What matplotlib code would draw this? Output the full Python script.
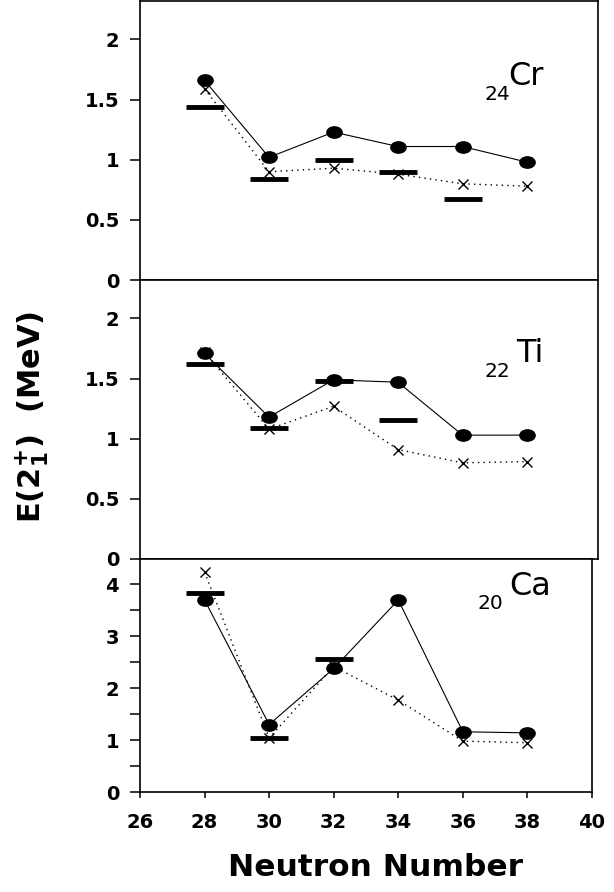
import matplotlib
matplotlib.use("Agg")
import matplotlib.pyplot as plt
from matplotlib.path import Path
from matplotlib.transforms import Affine2D

# E(2+1) systematics for Cr, Ti, Ca isotopes
neutrons = [28, 30, 32, 34, 36, 38]

cr_calc1 = [1.66, 1.02, 1.23, 1.11, 1.11, 0.98]   # filled circles, solid line
cr_calc2 = [1.59, 0.90, 0.93, 0.88, 0.80, 0.78]   # crosses, dotted line
cr_exp_n = [28, 30, 32, 34, 36]
cr_exp = [1.44, 0.84, 1.00, 0.90, 0.67]

ti_calc1 = [1.71, 1.18, 1.49, 1.47, 1.03, 1.03]
ti_calc2 = [1.72, 1.08, 1.27, 0.91, 0.80, 0.81]
ti_exp_n = [28, 30, 32, 34]
ti_exp = [1.62, 1.09, 1.48, 1.16]

ca_calc1 = [3.70, 1.30, 2.38, 3.70, 1.16, 1.14]
ca_calc2 = [4.24, 1.04, 2.42, 1.77, 0.98, 0.95]
ca_exp_n = [28, 30, 32]
ca_exp = [3.83, 1.04, 2.56]

small_ticks = [0, 0.5, 1, 1.5, 2]
small_labels = ["0", "0.5", "1", "1.5", "2"]
ca_ticks = [0, 1, 2, 3, 4]
ca_labels = ["0", "1", "2", "3", "4"]
ca_minor = [0.5, 1.5, 2.5, 3.5]
x_ticks = [26, 28, 30, 32, 34, 36, 38, 40]

W, H = 614, 892
fig = plt.figure(figsize=(W / 100, H / 100), dpi=100)

ax_cr = fig.add_axes([140 / W, 1 - 280 / H, 458 / W, 279 / H])
ax_ti = fig.add_axes([140 / W, 1 - 559 / H, 458 / W, 279 / H])
ax_ca = fig.add_axes([140 / W, 1 - 792 / H, 452 / W, 233 / H])

# slightly flattened dot, as in the original
ellipse = Path.unit_circle().transformed(Affine2D().scale(1.35, 1.0))


def draw_panel(ax, calc1, calc2, exp_n, exp, sub, elem, pos):
    ax.plot(neutrons, calc2, ls=(0, (1, 3)), color="black", lw=1.0,
            marker="x", ms=7, mew=1.0, mfc="none", zorder=2)
    ax.plot(neutrons, calc1, ls="-", color="black", lw=0.8,
            marker=ellipse, ms=11, zorder=3)
    ax.plot(exp_n, exp, ls="none", marker="_", ms=28, mew=3.5,
            color="black", zorder=4)
    sx, sy, ex, ey = pos
    ax.text(sx, sy, sub, transform=ax.transAxes, fontsize=14.5,
            ha="left", va="baseline")
    ax.text(ex, ey, elem, transform=ax.transAxes, fontsize=23,
            ha="left", va="baseline")
    for s in ax.spines.values():
        s.set_linewidth(1.2)
    ax.tick_params(axis="y", direction="out", length=7, width=1.1, pad=8)
    ax.tick_params(axis="y", which="minor", direction="out", length=7,
                   width=1.1)


draw_panel(ax_cr, cr_calc1, cr_calc2, cr_exp_n, cr_exp, "24", "Cr",
           (0.753, 0.645, 0.805, 0.70))
draw_panel(ax_ti, ti_calc1, ti_calc2, ti_exp_n, ti_exp, "22", "Ti",
           (0.753, 0.652, 0.822, 0.706))
draw_panel(ax_ca, ca_calc1, ca_calc2, ca_exp_n, ca_exp, "20", "Ca",
           (0.746, 0.785, 0.816, 0.845))

for ax in (ax_cr, ax_ti):
    ax.set_xlim(26, 40.2)
    ax.set_ylim(0, 2.32)
    ax.set_yticks(small_ticks)
    ax.set_yticklabels(small_labels, fontweight="bold", fontsize=14)
    ax.set_xticks([])

ax_ca.set_xlim(26, 40)
ax_ca.set_ylim(0, 4.49)
ax_ca.set_yticks(ca_ticks)
ax_ca.set_yticklabels(ca_labels, fontweight="bold", fontsize=14)
ax_ca.set_yticks(ca_minor, minor=True)
ax_ca.set_xticks(x_ticks)
ax_ca.set_xticklabels([str(v) for v in x_ticks], fontweight="bold", fontsize=14)
ax_ca.tick_params(axis="x", direction="out", length=4, width=1.1, pad=11)

fig.text(375 / W, 1 - 868 / H, "Neutron Number", fontsize=22.5,
         fontweight="bold", ha="center", va="center")
fig.text(32 / W, 1 - 417 / H, r"E(2$^{\mathbf{+}}_{\mathbf{1}}$)  (MeV)",
         fontsize=22, fontweight="bold", rotation=90, ha="center", va="center")

fig.savefig("out.png", dpi=100)
